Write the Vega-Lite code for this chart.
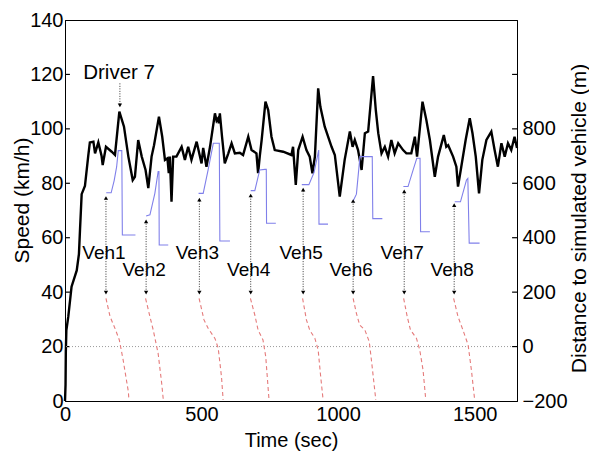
{
  "$schema": "https://vega.github.io/schema/vega-lite/v6.json",
  "width": 452,
  "height": 381,
  "autosize": {"type": "none"},
  "padding": {"left": 65, "top": 20, "right": 72, "bottom": 50},
  "config": {
    "font": "Liberation Sans",
    "view": {"stroke": "#000", "strokeWidth": 1},
    "axis": {
      "grid": false,
      "ticks": false,
      "domainColor": "#000",
      "labelColor": "#000",
      "titleColor": "#000",
      "labelFont": "Liberation Sans",
      "titleFont": "Liberation Sans",
      "labelFontSize": 20,
      "titleFontSize": 20,
      "titleFontWeight": "normal",
      "labelPadding": 3,
      "labelFlush": false,
      "labelOverlap": false
    }
  },
  "datasets": {
    "speed": [
      {"t":0,"v":0},{"t":2,"v":6},{"t":3,"v":18},{"t":5,"v":26},{"t":12,"v":31},{"t":24,"v":42},{"t":43,"v":48},{"t":51,"v":54},{"t":55,"v":63},{"t":61,"v":76},{"t":73,"v":79},{"t":85,"v":90},{"t":91,"v":95},{"t":104,"v":95.3},{"t":110,"v":91},{"t":122,"v":95},{"t":134,"v":90},{"t":138,"v":86.7},{"t":150,"v":93.4},{"t":171,"v":91.6},{"t":183,"v":90.4},{"t":199,"v":106.3},{"t":216,"v":100.8},{"t":232,"v":89.8},{"t":248,"v":81.2},{"t":256,"v":82.4},{"t":268,"v":95.9},{"t":281,"v":89.8},{"t":295,"v":84.9},{"t":305,"v":78.2},{"t":317,"v":89.8},{"t":326,"v":94},{"t":344,"v":104.5},{"t":356,"v":97.1},{"t":366,"v":88.6},{"t":375,"v":89.2},{"t":380,"v":83.7},{"t":384,"v":89.8},{"t":390,"v":73.2},{"t":396,"v":89.8},{"t":408,"v":89.8},{"t":427,"v":93.4},{"t":439,"v":88.6},{"t":451,"v":93.4},{"t":463,"v":88.6},{"t":482,"v":95.3},{"t":500,"v":87.3},{"t":506,"v":93},{"t":518,"v":86.1},{"t":531,"v":93.4},{"t":549,"v":105.7},{"t":555,"v":103},{"t":561,"v":103.9},{"t":563,"v":102},{"t":567,"v":105.7},{"t":575,"v":97.1},{"t":585,"v":87.3},{"t":598,"v":91},{"t":610,"v":94.7},{"t":622,"v":91},{"t":640,"v":91.2},{"t":652,"v":90.4},{"t":671,"v":97.1},{"t":683,"v":92.2},{"t":701,"v":91},{"t":707,"v":83.7},{"t":713,"v":89.8},{"t":720,"v":95.9},{"t":734,"v":110},{"t":744,"v":106.9},{"t":756,"v":97.1},{"t":768,"v":92.2},{"t":799,"v":91.6},{"t":829,"v":90.4},{"t":835,"v":93.4},{"t":845,"v":79.4},{"t":854,"v":92.2},{"t":870,"v":97.1},{"t":884,"v":92.2},{"t":896,"v":89.8},{"t":906,"v":83.7},{"t":915,"v":89.8},{"t":927,"v":114.9},{"t":935,"v":108.1},{"t":951,"v":100.8},{"t":976,"v":93.4},{"t":988,"v":90.4},{"t":1006,"v":75.1},{"t":1024,"v":88.6},{"t":1043,"v":99},{"t":1053,"v":93.4},{"t":1061,"v":95.9},{"t":1073,"v":92.2},{"t":1086,"v":84.9},{"t":1098,"v":98.4},{"t":1110,"v":99},{"t":1128,"v":119.4},{"t":1138,"v":106.9},{"t":1147,"v":98.4},{"t":1159,"v":91},{"t":1171,"v":93.4},{"t":1183,"v":89.8},{"t":1195,"v":95.9},{"t":1207,"v":91},{"t":1220,"v":94.7},{"t":1238,"v":92.2},{"t":1250,"v":91},{"t":1268,"v":91},{"t":1281,"v":97.1},{"t":1289,"v":89.8},{"t":1309,"v":110},{"t":1323,"v":103.3},{"t":1336,"v":95.9},{"t":1354,"v":82.4},{"t":1366,"v":89.8},{"t":1387,"v":97.7},{"t":1396,"v":93.4},{"t":1403,"v":94},{"t":1421,"v":89.8},{"t":1433,"v":86.1},{"t":1439,"v":78.8},{"t":1451,"v":86.1},{"t":1467,"v":95.9},{"t":1482,"v":103.9},{"t":1492,"v":98.4},{"t":1504,"v":89.8},{"t":1516,"v":76.3},{"t":1528,"v":88.6},{"t":1543,"v":95.9},{"t":1561,"v":99},{"t":1573,"v":92.2},{"t":1585,"v":86.1},{"t":1598,"v":94.7},{"t":1610,"v":89.8},{"t":1622,"v":94.7},{"t":1634,"v":92.2},{"t":1646,"v":97.1},{"t":1655,"v":93}
    ],
    "blue": [
      {"veh":1,"t":151,"v":76.5},{"veh":1,"t":169,"v":76.5},{"veh":1,"t":180,"v":81},{"veh":1,"t":189,"v":86},{"veh":1,"t":195,"v":92},{"veh":1,"t":208,"v":92},{"veh":1,"t":210,"v":61},{"veh":1,"t":258,"v":61},
      {"veh":2,"t":297,"v":68},{"veh":2,"t":311,"v":68.4},{"veh":2,"t":329,"v":76.3},{"veh":2,"t":341,"v":84.3},{"veh":2,"t":344,"v":84.3},{"veh":2,"t":345,"v":57.3},{"veh":2,"t":378,"v":57.3},
      {"veh":3,"t":489,"v":76.3},{"veh":3,"t":506,"v":76.3},{"veh":3,"t":524,"v":84.9},{"veh":3,"t":543,"v":94.7},{"veh":3,"t":565,"v":94.7},{"veh":3,"t":567,"v":58.8},{"veh":3,"t":604,"v":58.8},
      {"veh":4,"t":680,"v":77.3},{"veh":4,"t":695,"v":77.3},{"veh":4,"t":713,"v":84.9},{"veh":4,"t":732,"v":85.1},{"veh":4,"t":737,"v":85.1},{"veh":4,"t":738,"v":65.3},{"veh":4,"t":772,"v":65.3},
      {"veh":5,"t":867,"v":79.5},{"veh":5,"t":893,"v":79.5},{"veh":5,"t":912,"v":84},{"veh":5,"t":929,"v":92.2},{"veh":5,"t":930,"v":65},{"veh":5,"t":963,"v":65},
      {"veh":6,"t":1055,"v":73.5},{"veh":6,"t":1067,"v":76},{"veh":6,"t":1080,"v":89.8},{"veh":6,"t":1125,"v":89.8},{"veh":6,"t":1127,"v":67},{"veh":6,"t":1162,"v":67},
      {"veh":7,"t":1239,"v":78.8},{"veh":7,"t":1256,"v":78.8},{"veh":7,"t":1275,"v":85},{"veh":7,"t":1288,"v":89.2},{"veh":7,"t":1300,"v":89.2},{"veh":7,"t":1302,"v":62.2},{"veh":7,"t":1336,"v":62.2},
      {"veh":8,"t":1427,"v":73.2},{"veh":8,"t":1448,"v":73.2},{"veh":8,"t":1470,"v":81.2},{"veh":8,"t":1475,"v":81.8},{"veh":8,"t":1480,"v":58},{"veh":8,"t":1518,"v":58}
    ],
    "red": [
      {"veh":1,"t":150,"d":177},{"veh":1,"t":165,"d":110},{"veh":1,"t":183,"d":67},{"veh":1,"t":199,"d":24},{"veh":1,"t":213,"d":-50},{"veh":1,"t":232,"d":-166},{"veh":1,"t":234,"d":-196},
      {"veh":2,"t":295,"d":177},{"veh":2,"t":311,"d":110},{"veh":2,"t":323,"d":61},{"veh":2,"t":341,"d":-25},{"veh":2,"t":354,"d":-135},{"veh":2,"t":360,"d":-196},
      {"veh":3,"t":491,"d":177},{"veh":3,"t":509,"d":98},{"veh":3,"t":524,"d":67},{"veh":3,"t":549,"d":30},{"veh":3,"t":561,"d":-6},{"veh":3,"t":573,"d":-111},{"veh":3,"t":579,"d":-196},
      {"veh":4,"t":679,"d":177},{"veh":4,"t":695,"d":116},{"veh":4,"t":707,"d":61},{"veh":4,"t":725,"d":24},{"veh":4,"t":735,"d":-37},{"veh":4,"t":747,"d":-196},
      {"veh":5,"t":870,"d":177},{"veh":5,"t":884,"d":98},{"veh":5,"t":896,"d":61},{"veh":5,"t":915,"d":30},{"veh":5,"t":927,"d":-13},{"veh":5,"t":935,"d":-98},{"veh":5,"t":945,"d":-196},
      {"veh":6,"t":1055,"d":177},{"veh":6,"t":1067,"d":122},{"veh":6,"t":1079,"d":79},{"veh":6,"t":1098,"d":61},{"veh":6,"t":1114,"d":18},{"veh":6,"t":1122,"d":-50},{"veh":6,"t":1138,"d":-196},
      {"veh":7,"t":1240,"d":177},{"veh":7,"t":1253,"d":110},{"veh":7,"t":1265,"d":61},{"veh":7,"t":1287,"d":30},{"veh":7,"t":1299,"d":-13},{"veh":7,"t":1311,"d":-86},{"veh":7,"t":1321,"d":-196},
      {"veh":8,"t":1423,"d":177},{"veh":8,"t":1439,"d":110},{"veh":8,"t":1457,"d":61},{"veh":8,"t":1476,"d":6},{"veh":8,"t":1488,"d":-86},{"veh":8,"t":1500,"d":-196}
    ],
    "zero": [{"d": 0}],
    "xticks": [{"t": 500}, {"t": 1000}, {"t": 1500}],
    "vticks": [{"v": 20}, {"v": 40}, {"v": 60}, {"v": 80}, {"v": 100}, {"v": 120}],
    "dticks": [{"d": 0}, {"d": 200}, {"d": 400}, {"d": 600}, {"d": 800}, {"d": 1000}],
    "rules": [
      {"t":150,"v":40,"v2":74.6},{"t":297,"v":40,"v2":66},{"t":492,"v":40,"v2":74},{"t":680,"v":40,"v2":75.5},
      {"t":872,"v":40,"v2":77.7},{"t":1055,"v":40,"v2":73.5},{"t":1242,"v":40,"v2":77},{"t":1425,"v":40,"v2":72},
      {"t":201,"v":109,"v2":116.8}
    ],
    "heads": [
      {"t":150,"v":39.8,"dir":"down"},{"t":297,"v":39.8,"dir":"down"},{"t":492,"v":39.8,"dir":"down"},{"t":680,"v":39.8,"dir":"down"},
      {"t":872,"v":39.8,"dir":"down"},{"t":1055,"v":39.8,"dir":"down"},{"t":1242,"v":39.8,"dir":"down"},{"t":1425,"v":39.8,"dir":"down"},
      {"t":150,"v":74.6,"dir":"up"},{"t":297,"v":66,"dir":"up"},{"t":492,"v":74,"dir":"up"},{"t":680,"v":75.5,"dir":"up"},
      {"t":872,"v":77.7,"dir":"up"},{"t":1055,"v":73.5,"dir":"up"},{"t":1242,"v":77,"dir":"up"},{"t":1425,"v":72,"dir":"up"},
      {"t":201,"v":108.6,"dir":"down"}
    ],
    "vehlabels": [
      {"t":150,"v":54.5,"label":"Veh1"},{"t":297,"v":48,"label":"Veh2"},{"t":492,"v":54.5,"label":"Veh3"},{"t":680,"v":48,"label":"Veh4"},
      {"t":872,"v":54.5,"label":"Veh5"},{"t":1055,"v":48,"label":"Veh6"},{"t":1242,"v":54.5,"label":"Veh7"},{"t":1425,"v":48,"label":"Veh8"}
    ],
    "driver": [{"t":198,"v":120.5,"label":"Driver 7"}]
  },
  "layer": [
    {
      "encoding": {
        "y": {
          "field": "v",
          "type": "quantitative",
          "scale": {"domain": [0, 140], "nice": false},
          "axis": {
            "orient": "left",
            "values": [0, 20, 40, 60, 80, 100, 120, 140],
            "labelPadding": 2,
            "title": "Speed (km/h)",
            "titleAngle": -90,
            "titleBaseline": "middle",
            "titleX": -43,
            "titleY": 180,
            "titleFontSize": 21
          }
        }
      },
      "layer": [
        {
          "data": {"name": "xticks"},
          "mark": {"type": "rule", "color": "#000", "strokeWidth": 1.2},
          "encoding": {
            "x": {"field": "t", "type": "quantitative"},
            "y": {"datum": 0, "type": "quantitative"},
            "y2": {"datum": 2}
          }
        },
        {
          "data": {"name": "xticks"},
          "mark": {"type": "rule", "color": "#000", "strokeWidth": 1.2},
          "encoding": {
            "x": {"field": "t", "type": "quantitative"},
            "y": {"datum": 140, "type": "quantitative"},
            "y2": {"datum": 138}
          }
        },
        {
          "data": {"name": "vticks"},
          "mark": {"type": "rule", "color": "#000", "strokeWidth": 1.2},
          "encoding": {
            "x": {"datum": 0, "type": "quantitative"},
            "x2": {"datum": 18}
          }
        },
        {
          "data": {"name": "speed"},
          "mark": {"type": "line", "color": "#000", "strokeWidth": 2.4},
          "encoding": {
            "x": {
              "field": "t",
              "type": "quantitative",
              "scale": {"domain": [0, 1655], "nice": false},
              "axis": {
                "orient": "bottom",
                "values": [0, 500, 1000, 1500],
                "format": "d",
                "title": "Time (sec)",
                "titleBaseline": "top",
                "titleX": 226,
                "titleY": 29.5
              }
            }
          }
        },
        {
          "data": {"name": "blue"},
          "mark": {"type": "line", "color": "#8080ea", "strokeWidth": 1.1},
          "encoding": {
            "x": {"field": "t", "type": "quantitative"},
            "detail": {"field": "veh"}
          }
        },
        {
          "data": {"name": "rules"},
          "mark": {"type": "rule", "color": "#333", "strokeDash": [1, 1.5], "strokeWidth": 1},
          "encoding": {
            "x": {"field": "t", "type": "quantitative"},
            "y2": {"field": "v2"}
          }
        },
        {
          "data": {"name": "heads"},
          "mark": {"type": "point", "filled": true, "color": "#000", "size": 18, "opacity": 1},
          "encoding": {
            "x": {"field": "t", "type": "quantitative"},
            "shape": {"field": "dir", "type": "nominal", "scale": {"domain": ["up", "down"], "range": ["triangle-up", "triangle-down"]}, "legend": null}
          }
        },
        {
          "data": {"name": "vehlabels"},
          "mark": {"type": "text", "fontSize": 19, "color": "#000", "align": "center", "baseline": "middle", "dx": -2, "font": "Liberation Sans"},
          "encoding": {
            "x": {"field": "t", "type": "quantitative"},
            "text": {"field": "label"}
          }
        },
        {
          "data": {"name": "driver"},
          "mark": {"type": "text", "fontSize": 20.5, "color": "#000", "align": "center", "baseline": "middle", "font": "Liberation Sans"},
          "encoding": {
            "x": {"field": "t", "type": "quantitative"},
            "text": {"field": "label"}
          }
        }
      ]
    },
    {
      "encoding": {
        "y": {
          "field": "d",
          "type": "quantitative",
          "scale": {"domain": [-200, 1200], "nice": false},
          "axis": {
            "orient": "right",
            "values": [-200, 0, 200, 400, 600, 800, 1000, 1200],
            "labelExpr": "datum.value > 800 ? '' : datum.label",
            "labelPadding": 5,
            "title": "Distance to simulated vehicle (m)",
            "titleAngle": -90,
            "titleBaseline": "middle",
            "titleX": 62,
            "titleY": 198,
            "titleFontSize": 21
          }
        }
      },
      "layer": [
        {
          "data": {"name": "zero"},
          "mark": {"type": "rule", "color": "#9a9a9a", "strokeDash": [1, 2], "strokeWidth": 1},
          "encoding": {}
        },
        {
          "data": {"name": "dticks"},
          "mark": {"type": "rule", "color": "#000", "strokeWidth": 1.2},
          "encoding": {
            "x": {"datum": 1655, "type": "quantitative"},
            "x2": {"datum": 1637}
          }
        },
        {
          "data": {"name": "red"},
          "mark": {"type": "line", "color": "#e57b7b", "strokeDash": [4, 3], "strokeWidth": 1.1},
          "encoding": {
            "x": {
              "field": "t",
              "type": "quantitative",
              "scale": {"domain": [0, 1655], "nice": false},
              "axis": {"orient": "top", "values": [0, 500, 1000, 1500], "labels": false, "title": null}
            },
            "detail": {"field": "veh"}
          }
        }
      ]
    }
  ],
  "resolve": {
    "scale": {"y": "independent"},
    "axis": {"x": "independent", "y": "independent"}
  }
}
